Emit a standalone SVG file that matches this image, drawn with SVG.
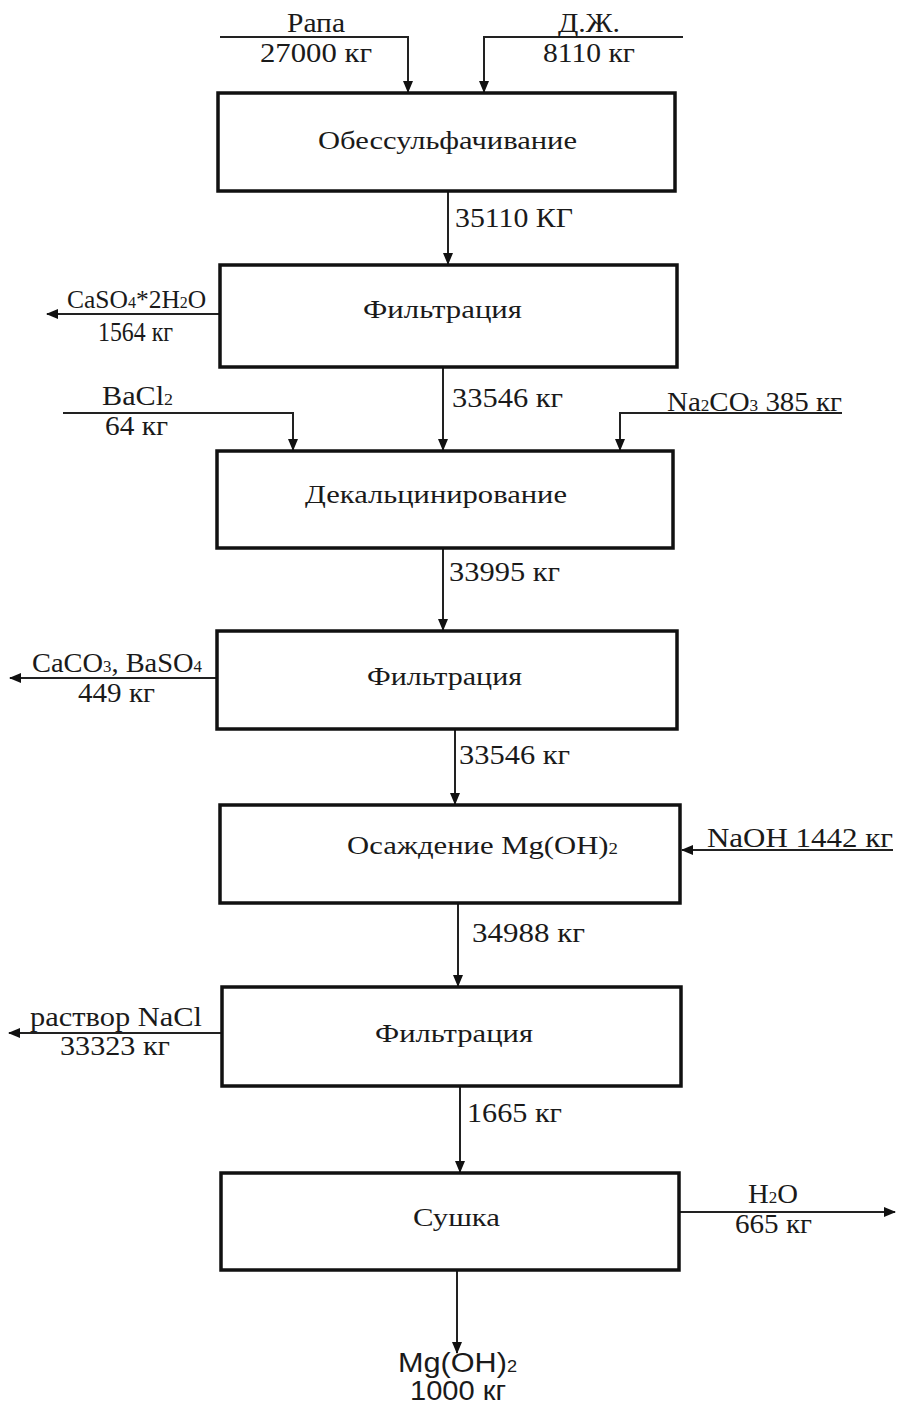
<svg xmlns="http://www.w3.org/2000/svg" width="897" height="1404" viewBox="0 0 897 1404">
<defs>
<marker id="ah" markerWidth="12" markerHeight="10" refX="11" refY="5" orient="auto" markerUnits="userSpaceOnUse">
<path d="M0,0 L12,5 L0,10 z" fill="#111"/>
</marker>
<style>
.box{fill:#fff;stroke:#111;stroke-width:3.5}
.c{fill:none;stroke:#222;stroke-width:2}
.a{marker-end:url(#ah)}
text{font-family:"Liberation Serif","Times New Roman",serif;font-size:27px;fill:#1a1a1a}
.t{font-size:26px}
.s{font-family:"Liberation Sans",Arial,sans-serif}
.sub{font-size:16px}
</style>
</defs>
<rect width="897" height="1404" fill="#fff"/>
<g id="connectors">
<polyline class="c a" points="220,37 408,37 408,92"/>
<polyline class="c a" points="683,37 484,37 484,92"/>
<line class="c a" x1="448" y1="191" x2="448" y2="264"/>
<line class="c a" x1="220" y1="314" x2="47" y2="314"/>
<line class="c a" x1="443" y1="367" x2="443" y2="450"/>
<polyline class="c a" points="63,413 293,413 293,450"/>
<polyline class="c a" points="842,413 620,413 620,450"/>
<line class="c a" x1="443" y1="548" x2="443" y2="630"/>
<line class="c a" x1="217" y1="678" x2="10" y2="678"/>
<line class="c a" x1="455" y1="729" x2="455" y2="804"/>
<line class="c a" x1="893" y1="850" x2="682" y2="850"/>
<line class="c a" x1="458" y1="903" x2="458" y2="986"/>
<line class="c a" x1="222" y1="1033" x2="9" y2="1033"/>
<line class="c a" x1="460" y1="1086" x2="460" y2="1172"/>
<line class="c a" x1="679" y1="1212" x2="895" y2="1212"/>
<line class="c a" x1="457" y1="1270" x2="457" y2="1353"/>
</g>
<g id="labels">
<text x="287" y="32" textLength="58" lengthAdjust="spacingAndGlyphs">Рапа</text>
<text x="260" y="62" textLength="112" lengthAdjust="spacingAndGlyphs">27000 кг</text>
<text x="558" y="32" textLength="62" lengthAdjust="spacingAndGlyphs">Д.Ж.</text>
<text x="543" y="62" textLength="92" lengthAdjust="spacingAndGlyphs">8110 кг</text>
<text x="455" y="227" textLength="118" lengthAdjust="spacingAndGlyphs">35110 КГ</text>
<text x="67" y="308" style="font-size:25.5px">CaSO<tspan class="sub">4</tspan>*2H<tspan class="sub">2</tspan>O</text>
<text x="98" y="341" textLength="75" lengthAdjust="spacingAndGlyphs">1564 кг</text>
<text x="452" y="407" textLength="111" lengthAdjust="spacingAndGlyphs">33546 кг</text>
<text x="102" y="405" textLength="71" lengthAdjust="spacingAndGlyphs">BaCl<tspan class="sub">2</tspan></text>
<text x="105" y="435" textLength="63" lengthAdjust="spacingAndGlyphs">64 кг</text>
<text x="667" y="411" textLength="175" lengthAdjust="spacingAndGlyphs">Na<tspan class="sub">2</tspan>CO<tspan class="sub">3</tspan> 385 кг</text>
<text x="449" y="581" textLength="111" lengthAdjust="spacingAndGlyphs">33995 кг</text>
<text x="32" y="672" textLength="170" lengthAdjust="spacingAndGlyphs">CaCO<tspan class="sub">3</tspan>, BaSO<tspan class="sub">4</tspan></text>
<text x="78" y="702" textLength="77" lengthAdjust="spacingAndGlyphs">449 кг</text>
<text x="459" y="764" textLength="111" lengthAdjust="spacingAndGlyphs">33546 кг</text>
<text x="707" y="847" textLength="186" lengthAdjust="spacingAndGlyphs">NaOH 1442 кг</text>
<text x="472" y="942" textLength="113" lengthAdjust="spacingAndGlyphs">34988 кг</text>
<text x="30" y="1026" textLength="172" lengthAdjust="spacingAndGlyphs">раствор NaCl</text>
<text x="60" y="1055" textLength="110" lengthAdjust="spacingAndGlyphs">33323 кг</text>
<text x="467" y="1122" textLength="95" lengthAdjust="spacingAndGlyphs">1665 кг</text>
<text x="748" y="1203" textLength="50" lengthAdjust="spacingAndGlyphs">H<tspan class="sub">2</tspan>O</text>
<text x="735" y="1233" textLength="77" lengthAdjust="spacingAndGlyphs">665 кг</text>
<text class="s" x="398" y="1372" textLength="119" lengthAdjust="spacingAndGlyphs">Mg(OH)<tspan class="sub">2</tspan></text>
<text class="s" x="410" y="1400" textLength="96" lengthAdjust="spacingAndGlyphs">1000 кг</text>
</g>
<g id="n1"><rect class="box" x="218" y="93" width="457" height="98"/><text class="t" x="318" y="149" textLength="259" lengthAdjust="spacingAndGlyphs">Обессульфачивание</text></g>
<g id="n2"><rect class="box" x="220" y="265" width="457" height="102"/><text class="t" x="363" y="318" textLength="159" lengthAdjust="spacingAndGlyphs">Фильтрация</text></g>
<g id="n3"><rect class="box" x="217" y="451" width="456" height="97"/><text class="t" x="305" y="503" textLength="262" lengthAdjust="spacingAndGlyphs">Декальцинирование</text></g>
<g id="n4"><rect class="box" x="217" y="631" width="460" height="98"/><text class="t" x="367" y="685" textLength="155" lengthAdjust="spacingAndGlyphs">Фильтрация</text></g>
<g id="n5"><rect class="box" x="220" y="805" width="460" height="98"/><text class="t" x="347" y="854" textLength="271" lengthAdjust="spacingAndGlyphs">Осаждение Mg(OH)<tspan class="sub">2</tspan></text></g>
<g id="n6"><rect class="box" x="222" y="987" width="459" height="99"/><text class="t" x="375" y="1042" textLength="158" lengthAdjust="spacingAndGlyphs">Фильтрация</text></g>
<g id="n7"><rect class="box" x="221" y="1173" width="458" height="97"/><text class="t" x="413" y="1226" textLength="87" lengthAdjust="spacingAndGlyphs">Сушка</text></g>
</svg>
